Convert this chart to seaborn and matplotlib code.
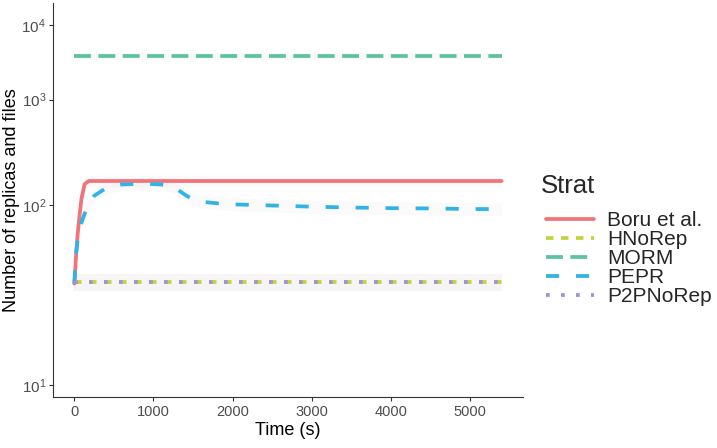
import numpy as np
import pandas as pd
import matplotlib
matplotlib.use("Agg")
import matplotlib.pyplot as plt
import matplotlib.ticker as mticker
import seaborn as sns

# ---------------- data ----------------
strats = ["Boru et al.", "HNoRep", "MORM", "PEPR", "P2PNoRep"]

time_s = [0, 10, 20, 40, 60, 90, 130, 180, 250, 400, 600, 900, 1100, 1250,
          1400, 1500, 1600, 1800, 2000, 2500, 3000, 3500, 4000, 4500, 5000, 5400]

boru = [30, 35, 43, 60, 78, 112, 147, 156, 156, 156, 156, 156, 156, 156,
        156, 156, 156, 156, 156, 156, 156, 156, 156, 156, 156, 156]
hnorep = [30.6] * len(time_s)
morm = [3500] * len(time_s)
pepr = [30, 38, 45, 55, 63, 74, 86, 100, 118, 136, 146, 148, 146, 140,
        120, 110, 106, 103, 101, 99, 97, 95.5, 94.5, 94, 93, 93]
p2pnorep = [30.6] * len(time_s)

series = {"Boru et al.": boru, "HNoRep": hnorep, "MORM": morm,
          "PEPR": pepr, "P2PNoRep": p2pnorep}

y_ticks = [10, 100, 1000, 10000]
y_tick_labels = [r"$10^{1}$", r"$10^{2}$", r"$10^{3}$", r"$10^{4}$"]
x_ticks = [0, 1000, 2000, 3000, 4000, 5000]

df = pd.DataFrame([
    {"Time": t, "Value": v, "Strat": s}
    for s in strats for t, v in zip(time_s, series[s])
])

# ---------------- style ----------------
sns.set_theme(style="white")
plt.rcParams["font.family"] = ["Liberation Sans", "DejaVu Sans"]
plt.rcParams["mathtext.default"] = "regular"

palette = {"Boru et al.": "#F0747A", "HNoRep": "#C5D33A", "MORM": "#5DC39E",
           "PEPR": "#31B4E4", "P2PNoRep": "#A78FD6"}
dashes = {"Boru et al.": "", "HNoRep": (2, 2), "MORM": (4.5, 2),
          "PEPR": (3.5, 4.5), "P2PNoRep": (1, 3)}

fig = plt.figure(figsize=(7.17, 4.48), dpi=100)
ax = fig.add_axes([53 / 717, 1 - 397 / 448, (523 - 53) / 717, (397 - 3) / 448])

def fwd(y):
    y = np.asarray(y, dtype=float)
    return np.log10(np.log10(np.clip(y, 1.0001, None)))

def inv(z):
    z = np.asarray(z, dtype=float)
    return 10 ** (10 ** z)

ax.set_yscale("function", functions=(fwd, inv))

# faint confidence ribbons
ribbon = 1.12
for s in strats:
    v = np.asarray(series[s], dtype=float)
    ax.fill_between(time_s, v / ribbon, v * ribbon, color="#BBBBBB",
                    alpha=0.07, lw=0, zorder=1)

sns.lineplot(data=df, x="Time", y="Value", hue="Strat", style="Strat",
             hue_order=strats, style_order=strats, palette=palette,
             dashes=dashes, lw=2.7, ax=ax, legend=True, zorder=3)

ax.set_xlim(-270, 5670)
ax.set_ylim(9.0, 22600)
ax.set_xticks(x_ticks)
ax.set_yticks(y_ticks)
ax.set_yticklabels(y_tick_labels)
ax.yaxis.set_minor_locator(mticker.NullLocator())

for side in ["top", "right"]:
    ax.spines[side].set_visible(False)
for side in ["left", "bottom"]:
    ax.spines[side].set_color("#333333")
    ax.spines[side].set_linewidth(0.8)
ax.tick_params(axis="both", which="major", length=3, width=0.8,
               color="#333333", labelcolor="#4D4D4D", labelsize=10.5,
               direction="out", bottom=True, left=True, pad=3)
ax.tick_params(axis="y", labelsize=11, pad=2)

ax.set_xlabel("Time (s)", fontsize=13, color="black", labelpad=2)
ax.set_ylabel("Number of replicas and files", fontsize=13, color="black", labelpad=1)

handles, labels = ax.get_legend_handles_labels()
ax.get_legend().remove()
leg = fig.legend(handles, labels, title="Strat", loc="upper left",
                 bbox_to_anchor=(541 / 717, 1 - 174 / 448), frameon=False,
                 fontsize=15, title_fontsize=18.5, handlelength=2.3,
                 handletextpad=0.65, labelspacing=0.0, borderpad=0,
                 borderaxespad=0)
leg._legend_box.align = "left"
leg._legend_box.sep = 6
leg._legend_handle_box.pad = 3.6
for h in leg.legend_handles:
    h.set_linewidth(2.7)

fig.savefig("out.png", dpi=100)
